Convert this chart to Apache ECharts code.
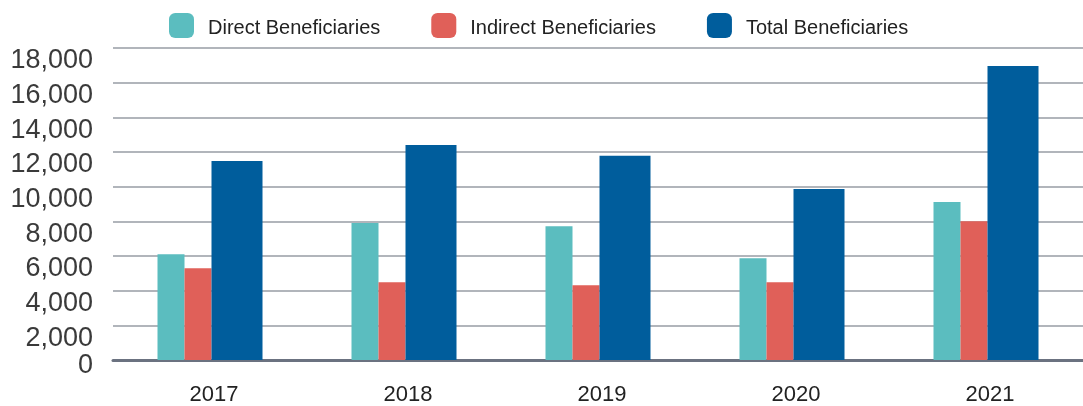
<!DOCTYPE html>
<html>
<head>
<meta charset="utf-8">
<script src="https://cdn.jsdelivr.net/npm/echarts@6/dist/echarts.min.js"></script>
<style>
  html, body { margin: 0; padding: 0; background: #fff; }
  #main { width: 1083px; height: 406px; }
</style>
</head>
<body>
<div id="main"></div>
<script>
var years = ['2017', '2018', '2019', '2020', '2021'];
var direct = [6100, 7900, 7720, 5870, 9110];
var indirect = [5290, 4480, 4310, 4480, 8010];
var total = [11480, 12400, 11790, 9870, 16960];
var yTicks = { min: 0, max: 18000, interval: 2000 };

var chart = echarts.init(document.getElementById('main'));
chart.setOption({
  animation: false,
  textStyle: { fontFamily: 'Liberation Sans, Arial, sans-serif' },
  legend: {
    top: 13,
    left: 169,
    padding: 0,
    itemWidth: 25,
    itemHeight: 25,
    itemGap: 51,
    icon: 'roundRect',
    formatter: '{t|{name}}',
    textStyle: {
      fontSize: 20,
      color: '#222',
      rich: { t: { fontSize: 20, color: '#222', padding: [6, 0, 0, 9] } }
    },
    data: ['Direct Beneficiaries', 'Indirect Beneficiaries', 'Total Beneficiaries']
  },
  grid: { left: 113, right: -3, top: 48, bottom: 46 },
  xAxis: {
    type: 'category',
    data: years,
    axisTick: { show: false },
    axisLine: { lineStyle: { color: '#6b7280', width: 3 } },
    axisLabel: { fontSize: 22, color: '#222', margin: 24, padding: [0, 0, 0, 8] }
  },
  yAxis: {
    type: 'value',
    min: yTicks.min,
    max: yTicks.max,
    interval: yTicks.interval,
    axisLine: { show: false },
    axisTick: { show: false },
    splitLine: { lineStyle: { color: '#979ca4', width: 1.5 } },
    axisLabel: {
      fontSize: 27,
      color: '#3a3a3a',
      margin: 20,
      verticalAlign: 'top',
      lineHeight: 26,
      formatter: function (v) {
        return v === 0 ? '{z|0}' : v.toLocaleString('en-US');
      },
      rich: { z: { fontSize: 27, color: '#3a3a3a', lineHeight: 12 } }
    }
  },
  series: [
    { name: 'Direct Beneficiaries', type: 'bar', data: direct, barWidth: 27, barGap: '0%', itemStyle: { color: '#5bbdbf' } },
    { name: 'Indirect Beneficiaries', type: 'bar', data: indirect, barWidth: 27, barGap: '0%', itemStyle: { color: '#e06059' } },
    { name: 'Total Beneficiaries', type: 'bar', data: total, barWidth: 51, barGap: '0%', itemStyle: { color: '#005d9c' } }
  ]
});
</script>
</body>
</html>
